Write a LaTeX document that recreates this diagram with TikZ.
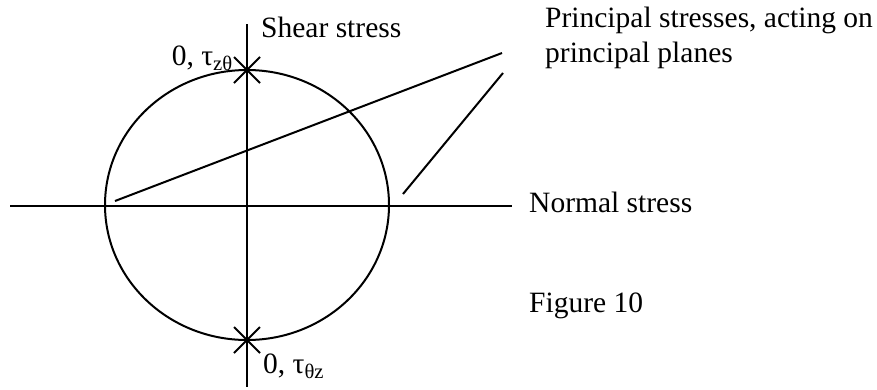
\documentclass[tikz,border=0pt]{standalone}
\usepackage{fontspec}
\setmainfont{Liberation Serif}
\usetikzlibrary{shapes.misc}

\tikzset{
	axis/.style={line width=2pt},
	lead/.style={line width=2pt},
	label/.style={inner sep=0pt, font=\fontsize{29.5}{35}\selectfont},
	mark x/.style={cross out, draw, line width=2pt, inner sep=0pt, minimum size=24pt},
}

\begin{document}
\begin{tikzpicture}[x=1pt, y=-1pt]
	\useasboundingbox (0,0) rectangle (877,389);

	% axes
	\coordinate (nleft) at (10,206);
	\coordinate (nright) at (512,206);
	\coordinate (stop) at (247,24);
	\coordinate (sbot) at (247,387);
	\draw[axis] (nleft) -- (nright);
	\draw[axis] (stop) -- (sbot);

	% Mohr circle
	\draw[axis] (247,205) ellipse [x radius=142, y radius=135];

	% crosses where the circle meets the shear axis
	\foreach \name/\y in {ctop/70, cbot/340} {
		\node[mark x] (\name) at (247,\y) {};
	}

	% labels
	\node[label, anchor=base west] (shear) at (261,37) {Shear stress};
	\node[label, anchor=base west] (normal) at (529,212) {Normal stress};
	\node[label, anchor=base east] (tzt) at (233,65) {0, τ\textsubscript{zθ}};
	\node[label, anchor=base west] (ttz) at (263,373) {0, τ\textsubscript{θz}};
	\node[label, anchor=base west] (princ1) at (545,27) {Principal stresses, acting on};
	\node[label, anchor=base west] (princ2) at (545,62) {principal planes};
	\node[label, anchor=base west] (fig) at (529,312) {Figure 10};

	% leaders from the principal stresses
	\coordinate (s1) at (115,201);
	\coordinate (s2) at (403,194);
	\coordinate (p1) at (502,53);
	\coordinate (p2) at (503,73);
	\draw[lead] (s1) -- (p1);
	\draw[lead] (s2) -- (p2);
\end{tikzpicture}
\end{document}
